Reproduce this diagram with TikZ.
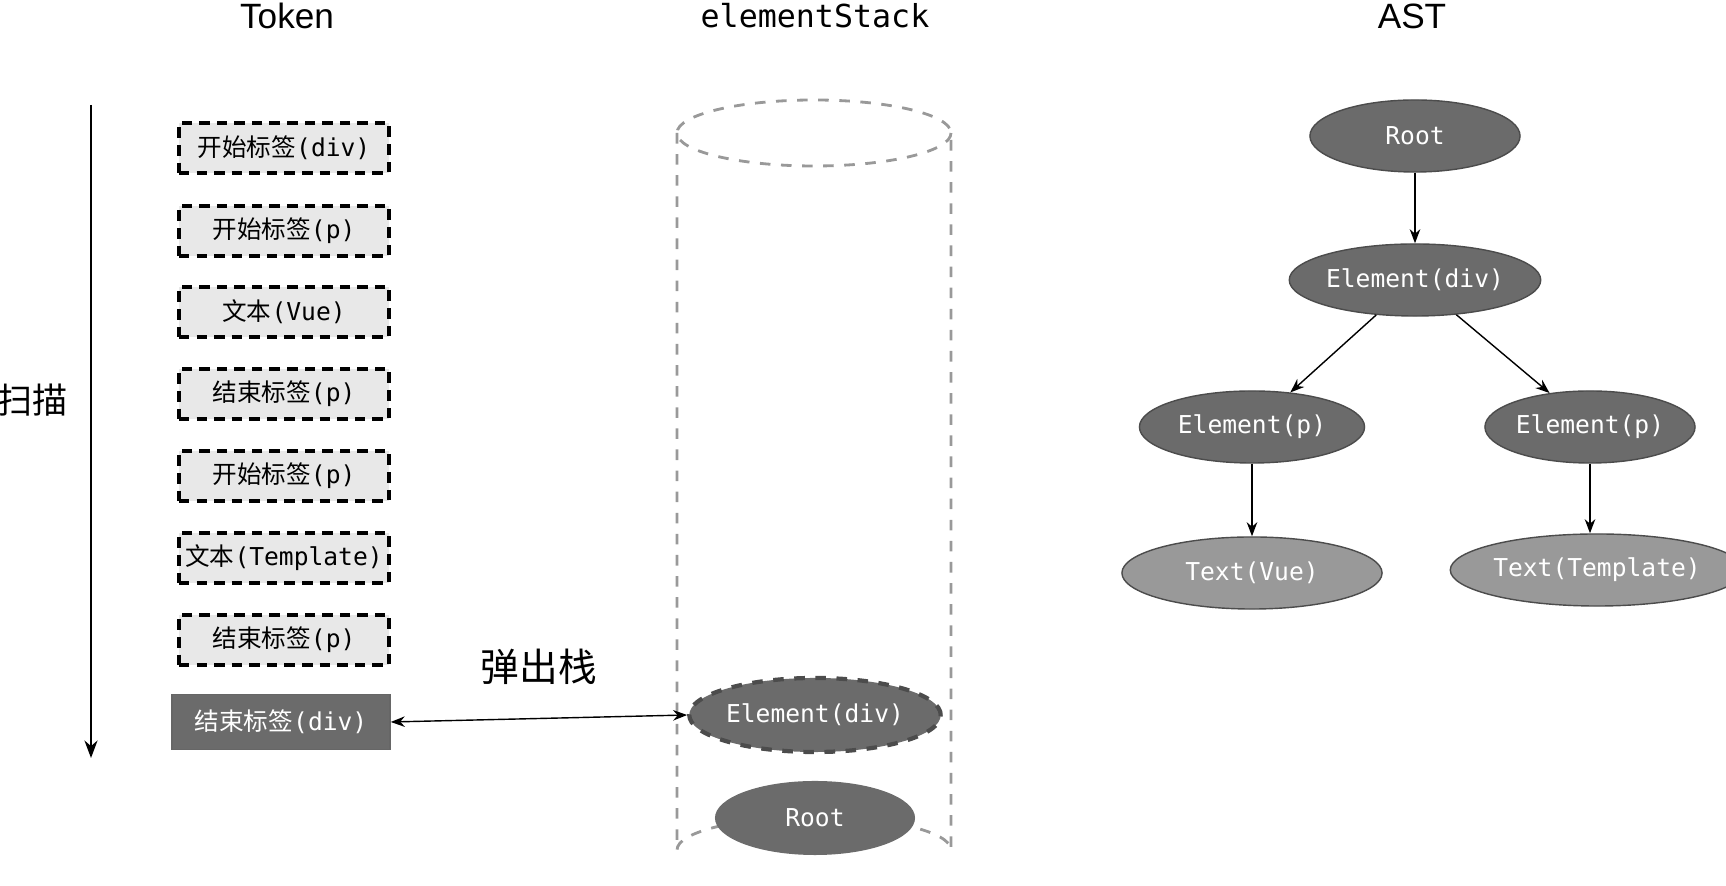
\documentclass[tikz,border=0pt]{standalone}
\usepackage{fontspec}
\setmainfont{Liberation Sans}
\setmonofont{DejaVu Sans Mono}
\newfontfamily\cjk{Noto Sans CJK SC}
\usetikzlibrary{shapes.geometric,arrows.meta}
\newcommand{\zh}[1]{{\cjk #1}}
\newcommand{\mo}[1]{{\ttfamily #1}}

\begin{document}
\begin{tikzpicture}[x=0.01cm,y=-0.01cm,
  font=\fontsize{7}{8}\selectfont,
  token/.style={draw=black,very thick,dash pattern=on 3pt off 2pt,fill=black!9,minimum width=2.1cm,minimum height=0.5cm,inner sep=1pt},
  stackel/.style={ellipse,fill=black!58,text=white,minimum width=2.1cm,minimum height=0.74cm,inner sep=0pt,font=\ttfamily\fontsize{7}{8}\selectfont},
  treeel/.style={ellipse,draw=black!70,fill=black!58,text=white,minimum height=0.72cm,inner sep=0pt,font=\ttfamily\fontsize{7}{8}\selectfont},
  leaf/.style={treeel,fill=black!40},
  title/.style={font=\fontsize{10}{12}\selectfont}]
\useasboundingbox (0,0) rectangle (1726,886);

% Titles
\node[title] (tTok) at (287,16) {Token};
\node[title,font=\ttfamily\fontsize{9}{11}\selectfont] (tStack) at (815,16) {elementStack};
\node[title] (tAst) at (1412,16) {AST};

% Scan arrow
\coordinate (scanA) at (91,105);
\coordinate (scanB) at (91,758);
\draw[thin,-{Stealth[length=5pt]}] (scanA) -- (scanB);
\node[font=\cjk\fontsize{10}{12}\selectfont] (scan) at (33,400) {扫描};

% Tokens
\node[token] (k1) at (284,148) {\zh{开始标签}\mo{(div)}};
\node[token] (k2) at (284,231) {\zh{开始标签}\mo{(p)}};
\node[token] (k3) at (284,312) {\zh{文本}\mo{(Vue)}};
\node[token] (k4) at (284,394) {\zh{结束标签}\mo{(p)}};
\node[token] (k5) at (284,476) {\zh{开始标签}\mo{(p)}};
\node[token] (k6) at (284,558) {\zh{文本}\mo{(Template)}};
\node[token] (k7) at (284,640) {\zh{结束标签}\mo{(p)}};
\node[draw=black!60,fill=black!58,text=white,minimum width=2.18cm,minimum height=0.55cm,inner sep=1pt] (k8) at (281,722) {\zh{结束标签}\mo{(div)}};

% Stack cylinder
\draw[black!40,dashed,thick] (814,133) ellipse [x radius=137,y radius=33];
\draw[black!40,dashed,thick] (677,133) -- (677,850) arc[start angle=180,end angle=360,x radius=137,y radius=33] -- (951,133);
\node[stackel,draw=black!70,very thick,dashed,minimum width=2.2cm] (sDiv) at (815,715) {Element(div)};
\node[stackel,minimum width=2cm] (sRoot) at (815,818) {Root};

% Pop
\draw[{Stealth[length=4pt]}-{Stealth[length=4pt]}] (k8.east) -- (sDiv.west) node[midway,above=6pt,font=\cjk\fontsize{11}{13}\selectfont] {弹出栈};

% AST
\node[treeel,minimum width=2.1cm] (aRoot) at (1415,136) {Root};
\node[treeel,minimum width=2.3cm] (aDiv) at (1415,280) {Element(div)};
\node[treeel,minimum width=2.25cm] (aP1) at (1252,427) {Element(p)};
\node[treeel,minimum width=2.1cm] (aP2) at (1590,427) {Element(p)};
\node[leaf,minimum width=2.6cm] (aT1) at (1252,573) {Text(Vue)};
\node[leaf,minimum width=2.35cm] (aT2) at (1597,570) {Text(Template)};
\draw[-{Stealth[length=4pt]}] (aRoot) -- (aDiv);
\draw[-{Stealth[length=4pt]}] (aDiv) -- (aP1);
\draw[-{Stealth[length=4pt]}] (aDiv) -- (aP2);
\draw[-{Stealth[length=4pt]}] (aP1) -- (aT1);
\draw[-{Stealth[length=4pt]}] (aP2.south) -- (aP2.south|-aT2.north);
\end{tikzpicture}
\end{document}
